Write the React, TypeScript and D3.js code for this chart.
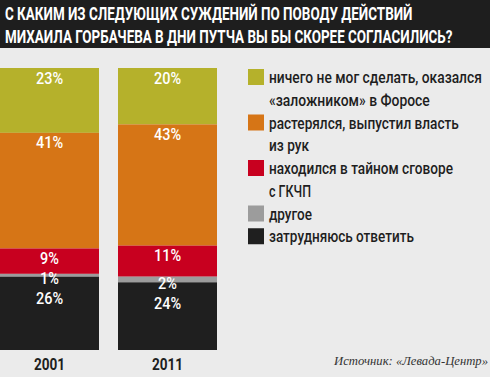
import React, { useLayoutEffect, useRef, useState } from "react";
import * as d3 from "d3";

const years = ["2001", "2011"];
const keys = ["helpless", "lostPower", "conspiracy", "other", "hardToSay"];
const values2001 = [23, 41, 9, 1, 26];
const values2011 = [20, 43, 11, 2, 24];
const legendLines = [
  ["ничего не мог сделать, оказался", "«заложником» в Форосе"],
  ["растерялся, выпустил власть", "из рук"],
  ["находился в тайном сговоре", "с ГКЧП"],
  ["другое"],
  ["затрудняюсь ответить"],
];
const titleLines = [
  "С КАКИМ ИЗ СЛЕДУЮЩИХ СУЖДЕНИЙ ПО ПОВОДУ ДЕЙСТВИЙ",
  "МИХАИЛА ГОРБАЧЕВА В ДНИ ПУТЧА ВЫ БЫ СКОРЕЕ СОГЛАСИЛИСЬ?",
];
const sourceText = "Источник: «Левада-Центр»";

const colors = ["#b5b12b", "#d67516", "#c8001f", "#9c9c9c", "#1f1f1f"];

// layout (not data)
const W = 490;
const H = 377;
const titleWidths = [408, 448];
const legendWidths = [
  [213, 161],
  [190, 40],
  [184, 42],
  [43],
  [145],
];
const FONT = "Roboto, 'DejaVu Sans', sans-serif";

function FitText(props: {
  x: number;
  y: number;
  width: number;
  anchor?: "start" | "end" | "middle";
  children: string;
  [k: string]: any;
}) {
  const { x, y, width, anchor = "start", children, ...rest } = props;
  const ref = useRef<SVGTextElement>(null);
  const [s, setS] = useState(1);
  useLayoutEffect(() => {
    if (ref.current) {
      const n = ref.current.getComputedTextLength();
      if (n > 0) setS(width / n);
    }
  }, [width, children]);
  return (
    <text
      ref={ref}
      transform={`translate(${x},${y}) scale(${s},1)`}
      textAnchor={anchor}
      {...rest}
    >
      {children}
    </text>
  );
}

export default function App() {
  const table = years.map((y, i) => {
    const vals = i === 0 ? values2001 : values2011;
    const row: any = { year: y };
    keys.forEach((k, j) => (row[k] = vals[j]));
    return row;
  });
  const series = d3.stack().keys(keys)(table);

  const x = d3.scaleBand().domain(years).range([0, 217]).paddingInner(0.161).paddingOuter(0);
  const y = d3.scaleLinear().domain([0, 100]).range([68, 350]);

  const labels: { x: number; y: number; text: string }[] = [];
  years.forEach((yr, i) => {
    let prev = -Infinity;
    series.forEach((s) => {
      const d = s[i];
      const v = d[1] - d[0];
      const top = y(d[0]);
      const bot = y(d[1]);
      let base;
      if (v < 5) {
        base = Math.max((top + bot) / 2 + 9, prev + 18);
      } else {
        base = Math.max(top + 15.5, prev + 20);
      }
      prev = base;
      labels.push({ x: (x(yr) as number) + x.bandwidth() / 2, y: base, text: `${v}%` });
    });
  });

  const lineH = 22.75;
  let lineIdx = 0;
  const legend = legendLines.map((lines, i) => {
    const start = lineIdx;
    lineIdx += lines.length;
    return { lines, start, i };
  });

  return (
    <svg
      width={W}
      height={H}
      style={{ position: "absolute", left: 0, top: 0, background: "#ebebeb" }}
    >
      <rect x={0} y={0} width={W} height={H} fill="#ebebeb" />
      <rect x={0} y={0} width={W} height={48} fill="#1e1e1e" />
      {titleLines.map((t, i) => (
        <FitText
          key={i}
          x={5}
          y={19.5 + i * 23.5}
          width={titleWidths[i]}
          fill="#ffffff"
          fontFamily={FONT}
          fontWeight={700}
          fontSize={19}
        >
          {t}
        </FitText>
      ))}

      {series.map((s, si) => (
        <g key={s.key} fill={colors[si]}>
          {s.map((d, i) => (
            <rect
              key={i}
              x={x(years[i]) as number}
              y={y(d[0])}
              width={x.bandwidth()}
              height={y(d[1]) - y(d[0])}
            />
          ))}
        </g>
      ))}

      {labels.map((l, i) => (
        <text
          key={i}
          transform={`translate(${l.x},${l.y}) scale(0.85,1)`}
          textAnchor="middle"
          fill="#ffffff"
          fontFamily={FONT}
          fontWeight={500}
          fontSize={17}
        >
          {l.text}
        </text>
      ))}

      {years.map((yr) => (
        <text
          key={yr}
          transform={`translate(${(x(yr) as number) + x.bandwidth() / 2},370) scale(0.8,1)`}
          textAnchor="middle"
          fill="#1e1e1e"
          fontFamily={FONT}
          fontWeight={700}
          fontSize={17}
        >
          {yr}
        </text>
      ))}

      {legend.map((e) => {
        const base0 = 83 + e.start * lineH;
        return (
          <g key={e.i}>
            <rect x={248} y={base0 - 14} width={16} height={16} fill={colors[e.i]} />
            {e.lines.map((ln, j) => (
              <FitText
                key={j}
                x={269}
                y={base0 + j * lineH}
                width={legendWidths[e.i][j]}
                fill="#1e1e1e"
                fontFamily={FONT}
                fontWeight={500}
                fontSize={16}
              >
                {ln}
              </FitText>
            ))}
          </g>
        );
      })}

      <FitText
        x={488}
        y={365}
        width={154}
        anchor="end"
        fill="#333333"
        fontFamily="'Liberation Serif', 'DejaVu Serif', serif"
        fontStyle="italic"
        fontSize={13}
      >
        {sourceText}
      </FitText>
    </svg>
  );
}
